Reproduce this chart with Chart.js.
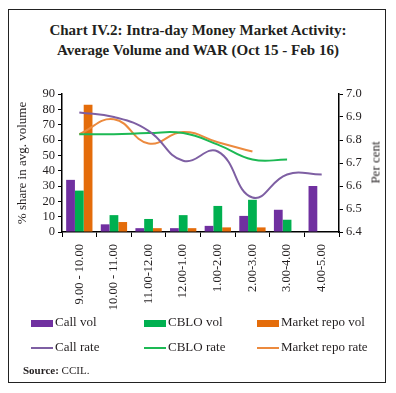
<!DOCTYPE html>
<html>
<head>
<meta charset="utf-8">
<script src="https://cdn.jsdelivr.net/npm/chart.js@4.4.1/dist/chart.umd.min.js"></script>
<style>
    body { margin: 0; background: #fff; }
    #wrap { position: relative; width: 396px; height: 393px; overflow: hidden; font-family: "Liberation Serif", "DejaVu Serif", serif; color: #231f20; }
    #frame { position: absolute; left: 8px; top: 9px; width: 376px; height: 372px; border: 1.5px solid #222; }
    #title { position: absolute; left: 0; top: 20px; width: 396px; text-align: center; font-weight: bold; font-size: 15px; line-height: 20px; }
    #chartBox { position: absolute; left: 0; top: 0; width: 396px; height: 393px; }
    #rightTitle { position: absolute; left: 340px; top: 155px; width: 70px; text-align: center; font-size: 13px; line-height: 15px; white-space: nowrap; transform: rotate(-90deg); }
    .leg { position: absolute; font-size: 13px; line-height: 14px; white-space: nowrap; }
    .sw { display: inline-block; width: 22px; margin-right: 2px; vertical-align: middle; }
    #source { position: absolute; left: 23px; top: 364px; font-size: 11px; }
</style>
</head>
<body>
<div id="wrap">
    <div id="frame"></div>
    <div id="title">Chart IV.2: Intra-day Money Market Activity:<br>Average Volume and WAR (Oct 15 - Feb 16)</div>
    <div id="chartBox"><canvas id="chart" width="396" height="393"></canvas></div>
    <div id="rightTitle">Per cent</div>
    <div id="legend"></div>
    <div id="source"><b>Source:</b> CCIL.</div>
</div>
<script>
const categories = ['9.00 - 10.00', '10.00 - 11.00', '11.00-12.00', '12.00-1.00', '1.00-2.00', '2.00-3.00', '3.00-4.00', '4.00-5.00'];

const callVol = [34, 5, 2.5, 2.5, 4, 10.5, 14.5, 30];
const cbloVol = [27, 11, 8.5, 11, 17, 21, 8, 0];
const repoVol = [83, 6.5, 2.5, 2.5, 3, 3, 0, 0];

const callRate = [6.92, 6.90, 6.84, 6.71, 6.75, 6.55, 6.65, 6.65];
const cbloRate = [6.825, 6.825, 6.83, 6.83, 6.78, 6.715, 6.715, null];
const repoRate = [6.825, 6.89, 6.785, 6.835, 6.79, 6.75, null, null];

const purple = '#7030a0';
const green = '#00b050';
const orange = '#e46c0a';
const callLine = '#7e5fa3';
const cbloLine = '#1db954';
const repoLine = '#ec8a3e';

const font = {family: '"Liberation Serif", "DejaVu Serif", serif', size: 13};
const tickFont = {family: '"Liberation Serif", "DejaVu Serif", serif', size: 12.5};

function barSet(label, data, color) {
    return {type: 'bar', label, data, backgroundColor: color, yAxisID: 'y', order: 2,
        categoryPercentage: 0.76, barPercentage: 1.0};
}

function lineSet(label, data, color) {
    return {type: 'line', label, data, borderColor: color, backgroundColor: color, borderWidth: 2,
        pointRadius: 0, tension: 0.45, yAxisID: 'y1', order: 1, spanGaps: false};
}

const datasets = [
    barSet('Call vol', callVol, purple),
    barSet('CBLO vol', cbloVol, green),
    barSet('Market repo vol', repoVol, orange),
    lineSet('Call rate', callRate, callLine),
    lineSet('CBLO rate', cbloRate, cbloLine),
    lineSet('Market repo rate', repoRate, repoLine)
];

new Chart(document.getElementById('chart'), {
    data: {labels: categories, datasets},
    options: {
        responsive: false,
        animation: false,
        layout: {padding: {top: 94, left: 15, right: 10, bottom: 81}},
        plugins: {legend: {display: false}, tooltip: {enabled: false}},
        scales: {
            x: {
                offset: true,
                grid: {offset: true, drawOnChartArea: false, color: '#000', tickLength: 5},
                border: {color: '#000', width: 1.5},
                ticks: {color: '#231f20', font: tickFont, minRotation: 90, maxRotation: 90, padding: 7, autoSkip: false},
                afterFit: (s) => { s.height = 80; }
            },
            y: {
                position: 'left', min: 0, max: 90,
                grid: {drawOnChartArea: false, color: '#000', tickLength: 4},
                border: {color: '#000', width: 1.5},
                ticks: {stepSize: 10, color: '#231f20', font: tickFont, padding: 3, autoSkip: false},
                title: {display: true, text: '% share in avg. volume', color: '#231f20', font, padding: 0},
                afterFit: (s) => { s.width = 47; }
            },
            y1: {
                position: 'right', min: 6.4, max: 7.0,
                grid: {drawOnChartArea: false, color: '#000', tickLength: 4},
                border: {color: '#000', width: 1.5},
                ticks: {stepSize: 0.1, color: '#231f20', font: tickFont, padding: 3, autoSkip: false,
                    callback: (v) => Number(v).toFixed(1)},
                afterFit: (s) => { s.width = 47; }
            }
        }
    }
});

// legend in three columns, bars on the first row, lines on the second
const legendBox = document.getElementById('legend');
const colX = [31, 144, 257];
datasets.forEach((ds, i) => {
    const el = document.createElement('div');
    el.className = 'leg';
    el.style.left = colX[i % 3] + 'px';
    el.style.top = (i < 3 ? 315 : 340) + 'px';
    const sw = document.createElement('span');
    sw.className = 'sw';
    sw.style.height = ds.type === 'bar' ? '7px' : '2px';
    sw.style.background = ds.type === 'bar' ? ds.backgroundColor : ds.borderColor;
    el.appendChild(sw);
    el.appendChild(document.createTextNode(ds.label));
    legendBox.appendChild(el);
});
</script>
</body>
</html>
